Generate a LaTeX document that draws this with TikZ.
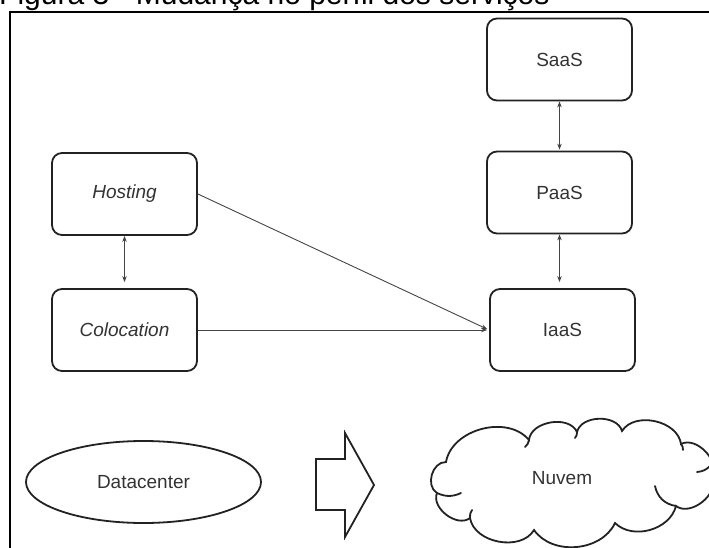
\documentclass[tikz,border=0pt]{standalone}
\usepackage{fontspec}
\setmainfont{Liberation Sans}
\usetikzlibrary{arrows.meta,shapes.geometric}
\definecolor{boxc}{HTML}{222222}
\definecolor{linec}{HTML}{444444}
\definecolor{txtc}{HTML}{333333}
\tikzset{
  svcbox/.style={draw=boxc, line width=1.8pt, rounded corners=10pt, minimum width=145pt, minimum height=82pt, text=txtc, font=\fontsize{19}{22}\selectfont},
  conn/.style={draw=linec, line width=0.9pt},
  tip/.style={-{Stealth[length=6pt,width=4.5pt]}},
  dtip/.style={{Stealth[length=6pt,width=4.5pt]}-{Stealth[length=6pt,width=4.5pt]}},
  shapeline/.style={draw=boxc, line width=1.8pt},
}
\begin{document}
\begin{tikzpicture}[x=1pt,y=-1pt]
\useasboundingbox (0,0) rectangle (709,548);
% title (cropped at top)
\node[anchor=base west, inner sep=0pt, text=black, font=\fontsize{30}{34}\selectfont] (title) at (-1,4.5) {Figura 3 - Mudança no perfil dos serviços};
% frame
\draw[line width=2pt, black] (10,560) -- (10,12) -- (720,12);
% boxes
\node[svcbox] (host) at (124.5,194) {\itshape Hosting};
\node[svcbox] (colo) at (124.5,330) {\itshape Colocation};
\node[svcbox] (saas) at (559.5,59.5) {SaaS};
\node[svcbox] (paas) at (559.5,192.5) {PaaS};
\node[svcbox] (iaas) at (562.5,330) {IaaS};
% connectors
\draw[conn,dtip,shorten >=6pt] (host.south) -- (colo.north);
\draw[conn,dtip,shorten >=1pt] (saas.south) -- (paas.north);
\draw[conn,dtip,shorten >=6pt] (paas.south) -- (paas.south |- iaas.north);
\draw[conn,tip,shorten >=2pt] (host.east) -- (iaas.west);
\draw[conn,tip,shorten >=2pt] (colo.east) -- (iaas.west);
% bottom row
\node[ellipse, shapeline, minimum width=235pt, minimum height=82pt, text=txtc, font=\fontsize{19}{22}\selectfont] (dc) at (143.5,482) {Datacenter};
\draw[shapeline, line join=miter] (316,459) -- (345,459) -- (345,433) -- (374,485) -- (345,537) -- (345,510) -- (316,510) -- cycle;
% cloud
\draw[shapeline, line cap=round]
  (437,493) to[bend left=75, looseness=1.1] (446,462)
  to[bend left=65] (529,440)
  to[bend left=75] (577,432)
  to[bend left=75] (622,431)
  to[bend left=70] (681,444)
  to[bend left=75] (712,478)
  to[bend left=75] (676,506)
  to[bend left=60] (615,523)
  to[bend left=60] (534,530)
  to[bend left=70] (470,518)
  to[bend left=75] (437,493);
\draw[shapeline, line cap=round] (437,493) to[bend right=25] (461,493);
\draw[shapeline, line cap=round] (529,440) to[bend left=20] (525,447);
\draw[shapeline, line cap=round] (577,432) to[bend left=20] (575,438);
\draw[shapeline, line cap=round] (681,444) to[bend left=20] (683,450);
\draw[shapeline, line cap=round] (710,466) to[bend left=20] (697,472);
\draw[shapeline, line cap=round] (676,506) to[bend left=35] (655,486);
\draw[shapeline, line cap=round] (470,518) to[bend left=20] (472,510);
\node[text=txtc, font=\fontsize{19}{22}\selectfont] (nuvem) at (562,478) {Nuvem};
\end{tikzpicture}
\end{document}
